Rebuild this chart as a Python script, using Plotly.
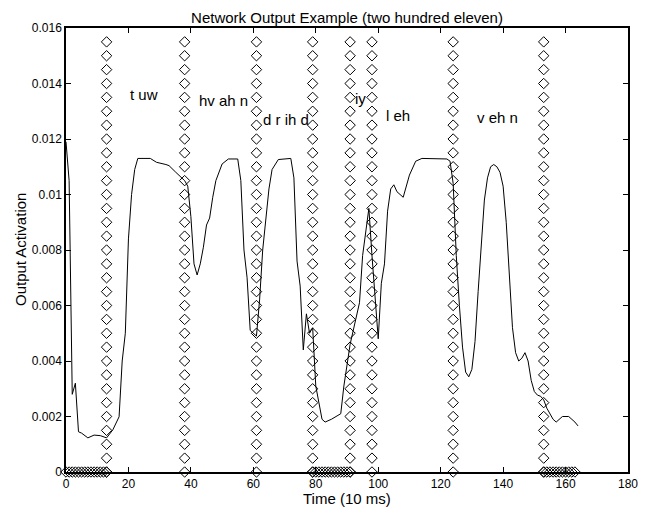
import plotly.graph_objects as go

# ---- data ----
time_frames = [0, 1, 2, 3, 4, 5, 7, 9, 11, 13, 15, 17, 18, 19, 20, 21, 22, 23, 27, 29,
               32, 33, 35, 37, 38, 39, 40, 41, 42, 43, 44, 45, 46, 47, 48, 50, 52, 55, 56, 57,
               58, 59, 60, 61, 62, 63, 65, 66, 68, 72, 73, 74, 75, 76, 77, 78, 79, 80, 81, 82,
               83, 85, 88, 89, 91, 92, 93, 94, 95, 96, 97, 98, 99, 100, 101, 102, 103, 104, 105, 106,
               108, 109, 110, 112, 114, 122, 123, 124, 125, 126, 127, 128, 129, 130, 131, 132, 133, 134, 135, 136,
               137, 138, 139, 140, 141, 142, 143, 144, 145, 146, 147, 148, 149, 150, 151, 152, 153, 154, 155, 156,
               157, 159, 161, 162, 163, 164]
output_activation = [0.0119, 0.0105, 0.0028, 0.0032, 0.00145, 0.0014, 0.00123, 0.00133, 0.00131, 0.00123,
                     0.00152, 0.00199, 0.0040, 0.0050, 0.0084, 0.0100, 0.0109, 0.0113, 0.0113, 0.01116,
                     0.01108, 0.01104, 0.01082, 0.01062, 0.0105, 0.0103, 0.0092, 0.0075, 0.0071, 0.0075,
                     0.0081, 0.0089, 0.00915, 0.0099, 0.0105, 0.0111, 0.01128, 0.01128, 0.0105, 0.0080,
                     0.0070, 0.0051, 0.0050, 0.0049, 0.0062, 0.0080, 0.0102, 0.0109, 0.01126, 0.0113,
                     0.0106, 0.0076, 0.0067, 0.0044, 0.0057, 0.0050, 0.0052, 0.0031, 0.0025, 0.0019,
                     0.0018, 0.0019, 0.0021, 0.0031, 0.0046, 0.0051, 0.0055, 0.0061, 0.0078, 0.0086,
                     0.0095, 0.0078, 0.0063, 0.0048, 0.0068, 0.0075, 0.0094, 0.0102, 0.01035, 0.0101,
                     0.0099, 0.0103, 0.0107, 0.0112, 0.0113, 0.01128, 0.0112, 0.0104, 0.0078, 0.0060,
                     0.0045, 0.0036, 0.00343, 0.0037, 0.0047, 0.0065, 0.0083, 0.0098, 0.0106, 0.0110,
                     0.01108, 0.0110, 0.0108, 0.0103, 0.0090, 0.0071, 0.0052, 0.0043, 0.0040, 0.0041,
                     0.0043, 0.0040, 0.0033, 0.0029, 0.00277, 0.00273, 0.0026, 0.0023, 0.0021, 0.0019,
                     0.0018, 0.0020, 0.0020, 0.0019, 0.0018, 0.00166]

word_boundaries = [13, 38, 61, 79, 91, 98, 124, 153]
marker_levels = [i * 0.0005 for i in range(32)]   # 0 .. 0.0155
silence_segments = [(0, 13), (79, 91), (153, 163)]

word_labels = ["t uw", "hv ah n", "d r ih d", "iy", "l eh", "v eh n"]
word_label_x = [20, 42, 62.5, 92, 102, 131]
word_label_y = [0.0136, 0.0134, 0.0127, 0.01345, 0.01285, 0.01276]

x_ticks = [0, 20, 40, 60, 80, 100, 120, 140, 160, 180]
y_ticks = [0, 0.002, 0.004, 0.006, 0.008, 0.010, 0.012, 0.014, 0.016]
y_tick_text = ["0", "0.002", "0.004", "0.006", "0.008", "0.01", "0.012", "0.014", "0.016"]

FONT = "Liberation Sans, Arial, Helvetica, sans-serif"

fig = go.Figure()

# vertical diamond columns at word boundaries
bx, by = [], []
for b in word_boundaries:
    for lv in marker_levels:
        bx.append(b)
        by.append(lv)
# diamonds along zero during silence
for a, e in silence_segments:
    for t in range(a, e + 1):
        bx.append(t)
        by.append(0)

fig.add_trace(go.Scatter(x=bx, y=by, mode="markers",
                         marker=dict(symbol="diamond-open", size=8, color="black",
                                     line=dict(width=1, color="black")),
                         showlegend=False, hoverinfo="skip", cliponaxis=False))

fig.add_trace(go.Scatter(x=time_frames, y=output_activation, mode="lines",
                         line=dict(color="black", width=1), showlegend=False))

for txt, tx, ty in zip(word_labels, word_label_x, word_label_y):
    fig.add_annotation(x=tx, y=ty, text=txt, showarrow=False, xanchor="left", yanchor="middle",
                       font=dict(family=FONT, size=15, color="black"))

# axis titles
fig.add_annotation(x=0.5, y=0, xref="paper", yref="paper", text="Time (10 ms)", showarrow=False,
                   xanchor="center", yanchor="middle", yshift=-26,
                   font=dict(family=FONT, size=15, color="black"))
fig.add_annotation(x=0, y=0.5, xref="paper", yref="paper", text="Output Activation", showarrow=False,
                   xanchor="center", yanchor="middle", xshift=-46, textangle=-90,
                   font=dict(family=FONT, size=15, color="black"))

fig.update_layout(
    width=641, height=502,
    margin=dict(l=58, r=21, t=20, b=38, autoexpand=False),
    paper_bgcolor="white", plot_bgcolor="white",
    font=dict(family=FONT, size=12, color="black"),
    title=dict(text="Network Output Example (two hundred eleven)", x=0.5, xref="paper",
               xanchor="center", y=0.981, yanchor="middle",
               font=dict(family=FONT, size=15, color="black")),
    xaxis=dict(range=[0, 180], tickvals=x_ticks, ticks="inside", ticklen=5, tickcolor="black",
               showline=True, linecolor="black", linewidth=1.5, mirror="ticks",
               showgrid=False, zeroline=False, automargin=False,
               tickfont=dict(family=FONT, size=12)),
    yaxis=dict(range=[0, 0.016], tickvals=y_ticks, ticktext=y_tick_text, ticks="inside", ticklen=5,
               tickcolor="black", showline=True, linecolor="black", linewidth=1.5, mirror="ticks",
               showgrid=False, zeroline=False, automargin=False,
               tickfont=dict(family=FONT, size=12)),
)

fig.write_html("out.html")
